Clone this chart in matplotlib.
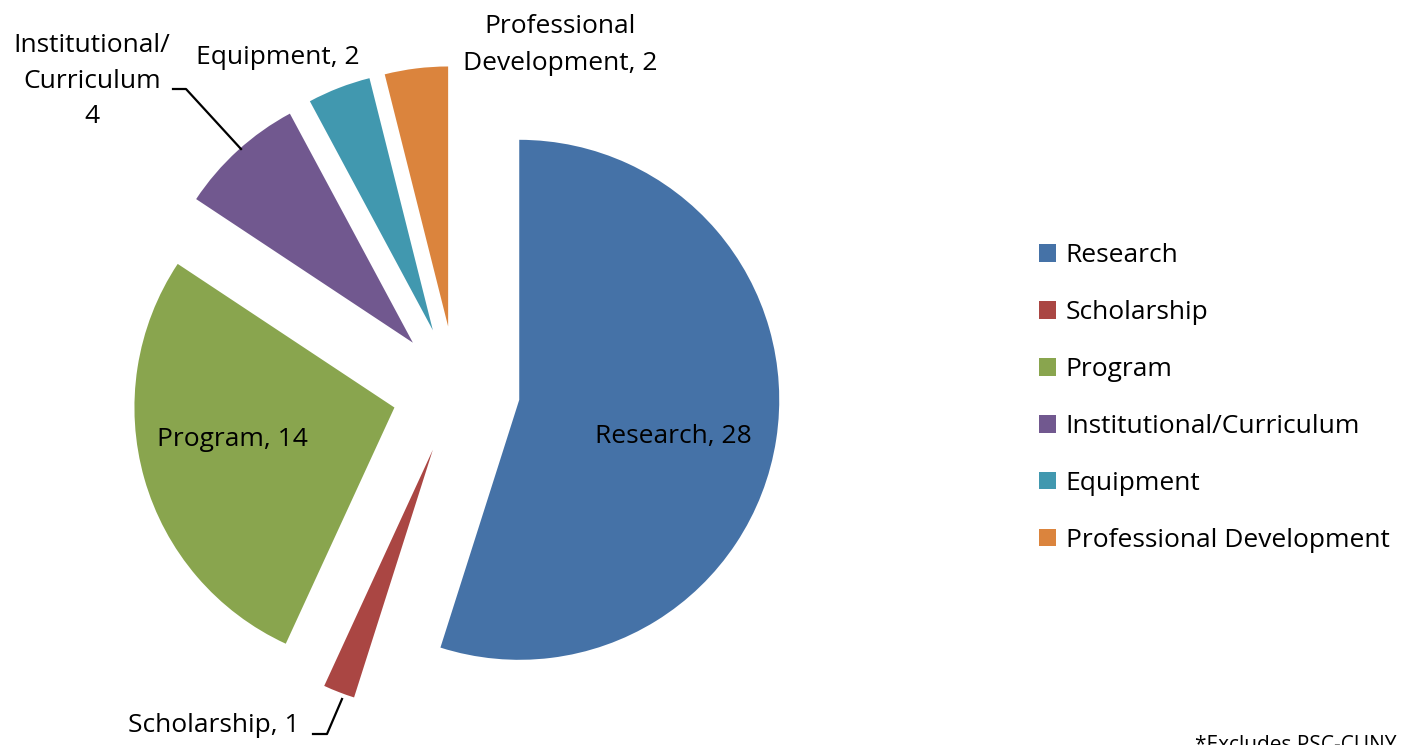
import matplotlib
matplotlib.use("Agg")
from matplotlib import pyplot as plt

categories = ["Research", "Scholarship", "Program", "Institutional/Curriculum",
              "Equipment", "Professional Development"]
counts = [28, 1, 14, 4, 2, 2]
colors = ["#4572A7", "#AA4643", "#89A54E", "#71588F", "#4198AF", "#DB843D"]

W, H = 1407, 745
plt.rcParams['font.family'] = ['Open Sans', 'DejaVu Sans']

fig = plt.figure(figsize=(W / 100, H / 100), dpi=100)
ax = fig.add_axes([0, 0, 1, 1])

# pie in pixel coordinates, y measured from the bottom; explode is in data units
wedges, _ = ax.pie(counts, colors=colors, startangle=90, counterclock=False,
                   radius=260, center=(456, H - 390), explode=[64] * len(counts),
                   frame=True)
ax.set_xlim(0, W)
ax.set_ylim(0, H)
ax.set_aspect('equal')
ax.axis('off')

fs = 19
# data labels
ax.text(673, H - 437, f"{categories[0]}, {counts[0]}", fontsize=fs, ha='center', va='center')
ax.text(232, H - 440, f"{categories[2]}, {counts[2]}", fontsize=fs, ha='center', va='center')
ax.text(560, H - 45, f"Professional\nDevelopment, {counts[5]}", fontsize=fs,
        ha='center', va='center', linespacing=1.6)
ax.text(278, H - 57, f"{categories[4]}, {counts[4]}", fontsize=fs, ha='center', va='center')
ax.text(92, H - 81, f"Institutional/\nCurriculum\n{counts[3]}", fontsize=fs,
        ha='center', va='center', linespacing=1.55)
ax.text(214, H - 726, f"{categories[1]}, {counts[1]}", fontsize=fs, ha='center', va='center')

# leader lines
ax.plot([173, 186, 241], [H - 89, H - 89, H - 149], color='black', lw=1.6)
ax.plot([313, 327, 342], [H - 734, H - 734, H - 699], color='black', lw=1.6)

ax.legend(wedges, categories, loc='center left', bbox_to_anchor=(1026 / W, (H - 398) / H),
          frameon=False, fontsize=fs, labelspacing=1.21, handlelength=0.65,
          handleheight=0.65, handletextpad=0.35, borderpad=0)

fig.text(1195 / W, 10 / H, "*Excludes PSC-CUNY", fontsize=15, ha='left', va='top')

fig.savefig("out.png", dpi=100)
